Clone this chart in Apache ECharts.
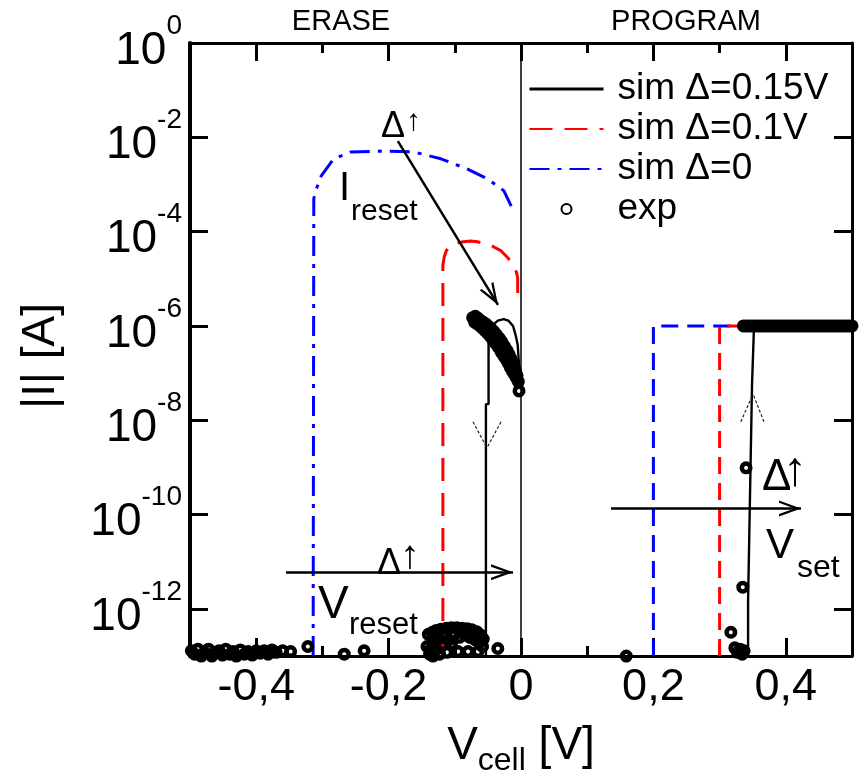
<!DOCTYPE html>
<html><head><meta charset="utf-8">
<script src="https://cdn.jsdelivr.net/npm/echarts@6/dist/echarts.min.js"></script>
<style>html,body{margin:0;padding:0;background:#fff}#c{width:865px;height:782px}</style>
</head><body><div id="c"></div>
<script>
const FONT = 'Liberation Sans, Arial, Helvetica, sans-serif';

// axis ticks
const xTicksMajor = [-0.4, -0.2, 0, 0.2, 0.4];
const xTicksMinor = [-0.3, -0.1, 0.1, 0.3];
const yTicks = [1e-12, 1e-10, 1e-8, 1e-6, 1e-4, 1e-2, 1];
const legendNames = ['sim Δ=0.15V', 'sim Δ=0.1V', 'sim Δ=0', 'exp'];

// sim Δ=0.15V (black)
const simA_erase = [[-0.053,1e-13],[-0.053,2.2e-8],[-0.049,2.2e-8],[-0.049,5.2e-7],[-0.046,8e-7],[-0.042,1.07e-6],[-0.035,1.3e-6],[-0.026,1.4e-6],[-0.019,1.3e-6],[-0.012,1.0e-6],[-0.008,6.3e-7],[-0.005,4e-7],[-0.003,1.5e-7],[-0.002,6e-8]];
const simA_zero = [[0,1e-13],[0,1]];
const simA_prog = [[0.343,1e-13],[0.343,1.4e-12],[0.346,1.4e-12],[0.346,2.9e-10],[0.349,2.9e-10],[0.349,5.9e-8],[0.352,5.9e-8],[0.352,1e-6],[0.5,1e-6]];
// sim Δ=0.1V (red)
const simB_erase = [[-0.118,1e-13],[-0.118,5.6e-6],[-0.118,1.95e-5],[-0.116,2.9e-5],[-0.113,3.9e-5],[-0.108,4.8e-5],[-0.101,5.5e-5],[-0.09,6.0e-5],[-0.076,6.3e-5],[-0.066,6.1e-5],[-0.056,5.7e-5],[-0.043,4.9e-5],[-0.03,3.9e-5],[-0.02,2.8e-5],[-0.012,1.95e-5],[-0.007,1.4e-5],[-0.005,1.05e-5],[-0.005,3.6e-6]];
const simB_prog = [[0.3,1e-13],[0.3,1e-6],[0.335,1e-6]];
// sim Δ=0 (blue)
const simC_erase = [[-0.314,1e-13],[-0.313,5e-4],[-0.31,7.4e-4],[-0.302,1.5e-3],[-0.283,3.5e-3],[-0.257,4.9e-3],[-0.212,5.1e-3],[-0.162,4.9e-3],[-0.121,3.5e-3],[-0.08,2.1e-3],[-0.05,1.3e-3],[-0.026,7.4e-4],[-0.011,2.7e-4]];
const simC_prog = [[0.2,1e-13],[0.2,1e-6],[0.335,1e-6]];

// experimental points
const expEraseLow = [[-0.498,1.3e-13],[-0.493,1.1e-13],[-0.488,1.4e-13],[-0.483,1.0e-13],[-0.478,1.2e-13],[-0.472,1.4e-13],[-0.467,1.0e-13],[-0.462,1.2e-13],[-0.456,1.3e-13],[-0.451,1.05e-13],[-0.446,1.4e-13],[-0.44,1.1e-13],[-0.435,1.25e-13],[-0.43,1.0e-13],[-0.424,1.35e-13],[-0.418,1.1e-13],[-0.412,1.25e-13],[-0.406,1.05e-13],[-0.4,1.3e-13],[-0.394,1.15e-13],[-0.388,1.3e-13],[-0.382,1.1e-13],[-0.376,1.35e-13],[-0.37,1.2e-13],[-0.36,1.3e-13],[-0.348,1.25e-13],[-0.322,1.6e-13],[-0.267,1.1e-13],[-0.237,1.3e-13]];
const expHump = [[-0.14,2.9e-13],[-0.134,3.2e-13],[-0.128,3.5e-13],[-0.121,3.7e-13],[-0.113,3.9e-13],[-0.105,4.0e-13],[-0.097,4.0e-13],[-0.089,3.9e-13],[-0.081,3.8e-13],[-0.074,3.6e-13],[-0.067,3.3e-13],[-0.061,2.8e-13],[-0.057,2.3e-13],
 [-0.142,1.6e-13],[-0.138,1.1e-13],[-0.133,1.0e-13],[-0.128,1.4e-13],[-0.125,2.3e-13],[-0.119,1.7e-13],[-0.115,2.7e-13],[-0.109,2.2e-13],[-0.101,2.8e-13],[-0.093,2.5e-13],[-0.085,2.8e-13],[-0.077,2.5e-13],[-0.069,2.2e-13],[-0.063,1.9e-13],[-0.131,2.2e-13],[-0.123,1.1e-13],[-0.136,1.4e-13],[-0.112,1.2e-13],[-0.105,1.8e-13],[-0.095,1.25e-13],[-0.08,1.25e-13],[-0.065,1.25e-13],[-0.058,1.6e-13],[-0.035,1.45e-13]];
const expBand = [[-0.073,1.5e-6],[-0.069,1.6e-6],[-0.065,1.45e-6],[-0.061,1.3e-6],[-0.057,1.2e-6],[-0.053,1.1e-6],[-0.049,9.8e-7],[-0.045,8.7e-7],[-0.041,7.6e-7],[-0.037,6.5e-7],[-0.033,5.5e-7],[-0.029,4.6e-7],[-0.025,3.7e-7],[-0.021,3.0e-7],[-0.018,2.5e-7],[-0.015,2.0e-7],[-0.012,1.6e-7],[-0.01,1.26e-7],[-0.008,1.05e-7],[-0.006,8.9e-8],
 [-0.07,1.2e-6],[-0.066,1.1e-6],[-0.062,1.0e-6],[-0.058,8.9e-7],[-0.054,7.9e-7],[-0.05,6.9e-7],[-0.046,5.9e-7],[-0.042,5.0e-7],[-0.038,4.2e-7],[-0.034,3.5e-7],[-0.03,2.8e-7],[-0.026,2.3e-7],[-0.022,1.9e-7],[-0.019,1.6e-7],[-0.016,1.3e-7],[-0.013,1.1e-7],[-0.01,9.5e-8],[-0.007,7.9e-8],
 [-0.004,6.6e-8],[-0.003,4.2e-8]];
const expProgLow = [[0.159,1e-13],[0.317,3.2e-13],[0.323,1.5e-13],[0.327,1.2e-13],[0.331,1.4e-13],[0.334,1.1e-13],[0.337,1.3e-13],[0.335,2.9e-12],[0.34,9.8e-10]];
const expProgHigh = [[0.336,1e-6],[0.34,1e-6],[0.344,1e-6],[0.348,1e-6],[0.352,1e-6],[0.356,1e-6],[0.36,1e-6],[0.364,1e-6],[0.368,1e-6],[0.372,1e-6],[0.376,1e-6],[0.38,1e-6],[0.384,1e-6],[0.388,1e-6],[0.392,1e-6],[0.396,1e-6],[0.4,1e-6],[0.404,1e-6],[0.408,1e-6],[0.412,1e-6],[0.416,1e-6],[0.42,1e-6],[0.424,1e-6],[0.428,1e-6],[0.432,1e-6],[0.436,1e-6],[0.44,1e-6],[0.444,1e-6],[0.448,1e-6],[0.452,1e-6],[0.456,1e-6],[0.46,1e-6],[0.464,1e-6],[0.468,1e-6],[0.472,1e-6],[0.476,1e-6],[0.48,1e-6],[0.484,1e-6],[0.488,1e-6],[0.492,1e-6],[0.496,1e-6],[0.5,1e-6]];

// annotation arrows (data space)
const arrows = [
  [[-0.186,8.3e-3],[-0.0347,2.8e-6]],
  [[-0.355,6.0e-12],[-0.012,6.0e-12]],
  [[0.136,1.35e-10],[0.423,1.35e-10]]
];
const chevrons = [
  [[-0.0725,9.3e-9],[-0.0514,2.6e-9]],
  [[-0.0302,9.3e-9],[-0.0514,2.6e-9]],
  [[0.332,9.3e-9],[0.3505,3.6e-8]],
  [[0.367,9.3e-9],[0.3505,3.6e-8]]
];

const ARROW = 'path://M8,-22L8.01,-22L8,-22Z M0,22L8,0L16,22L13.6,22L8,6.5L2.4,22Z';

const chart = echarts.init(document.getElementById('c'), null, {renderer:'canvas'});

function xFmt(v){ return Math.abs(v) < 1e-9 ? '0' : v.toFixed(1).replace('.', ','); }
function yFmt(v){ const e = Math.round(Math.log10(v)); return '{b|10}{e|' + e + '}'; }

const axisLineStyle = {color:'#000', width:3};
const xBase = {type:'value', min:-0.5, max:0.5, splitLine:{show:false}, gridIndex:0};
const yBase = {type:'log', logBase:10, min:1e-13, max:1, splitLine:{show:false}, minorTick:{show:false}};

const textEl = (t, x, y, size, weight) => ({type:'text', x:x, y:y, silent:true,
  style:{text:t, font:(weight ? weight + ' ' : '') + size + 'px ' + FONT, fill:'#000', align:'left', verticalAlign:'middle'}});

chart.setOption({
  animation:false,
  backgroundColor:'#fff',
  grid:{left:190, right:13, top:43, bottom:120, containLabel:false},
  legend:{
    data: [
      {name:legendNames[0], itemStyle:{opacity:0}, lineStyle:{width:3}},
      {name:legendNames[1], itemStyle:{opacity:0}},
      {name:legendNames[2], itemStyle:{opacity:0}},
      {name:legendNames[3]}
    ],
    orient:'vertical', left:523, top:64, itemWidth:74, itemHeight:10, itemGap:0,
    selectedMode:false,
    textStyle:{fontFamily:FONT, fontSize:37, color:'#000', lineHeight:40, padding:[0,0,0,9]}
  },
  xAxis:[
    Object.assign({}, xBase, {position:'bottom',
      axisLine:{show:true, onZero:false, lineStyle:axisLineStyle},
      axisTick:{show:true, inside:true, length:18, lineStyle:{color:'#000', width:3}, customValues:xTicksMajor},
      axisLabel:{show:true, customValues:xTicksMajor, formatter:xFmt, fontFamily:FONT, fontSize:45, color:'#000', margin:9},
      name:'{v|V}{s|cell}{v| [V]}', nameLocation:'middle', nameGap:57,
      nameTextStyle:{rich:{v:{fontFamily:FONT, fontSize:46, color:'#000', lineHeight:46}, s:{fontFamily:FONT, fontSize:32, color:'#000', lineHeight:32, padding:[30,0,0,0]}}}
    }),
    Object.assign({}, xBase, {position:'bottom',
      axisLine:{show:false, onZero:false},
      axisTick:{show:true, inside:true, length:10, lineStyle:{color:'#000', width:3}, customValues:xTicksMinor},
      axisLabel:{show:false}}),
    Object.assign({}, xBase, {position:'top',
      axisLine:{show:true, onZero:false, lineStyle:axisLineStyle},
      axisTick:{show:true, inside:true, length:18, lineStyle:{color:'#000', width:3}, customValues:xTicksMajor},
      axisLabel:{show:false}}),
    Object.assign({}, xBase, {position:'top',
      axisLine:{show:false, onZero:false},
      axisTick:{show:true, inside:true, length:10, lineStyle:{color:'#000', width:3}, customValues:xTicksMinor},
      axisLabel:{show:false}})
  ],
  yAxis:[
    Object.assign({}, yBase, {position:'left',
      axisLine:{show:true, onZero:false, lineStyle:{color:'#000', width:4}},
      axisTick:{show:true, inside:true, length:18, lineStyle:{color:'#000', width:3}, customValues:yTicks},
      axisLabel:{show:true, customValues:yTicks, formatter:yFmt, margin:8, padding:[16,0,0,0],
        rich:{b:{fontFamily:FONT, fontSize:46, color:'#000', lineHeight:46}, e:{fontFamily:FONT, fontSize:28, color:'#000', lineHeight:28, padding:[0,0,50,0]}}},
      name:'|I| [A]\u00A0', nameLocation:'middle', nameRotate:90, nameGap:126,
      nameTextStyle:{fontFamily:FONT, fontSize:46, color:'#000'}
    }),
    Object.assign({}, yBase, {position:'right',
      axisLine:{show:true, onZero:false, lineStyle:axisLineStyle},
      axisTick:{show:true, inside:true, length:18, lineStyle:{color:'#000', width:3}, customValues:yTicks},
      axisLabel:{show:false}})
  ],
  series:[
    {name:legendNames[0], type:'line', data:simA_erase, symbol:'none', lineStyle:{color:'#000', width:2.4}, itemStyle:{color:'#000'}, z:3},
    {name:legendNames[0], type:'line', data:simA_zero, symbol:'none', lineStyle:{color:'#000', width:1.5}, itemStyle:{color:'#000'}, z:3},
    {name:legendNames[0], type:'line', data:simA_prog, symbol:'none', lineStyle:{color:'#000', width:2.4}, itemStyle:{color:'#000'}, z:3},
    {name:legendNames[1], type:'line', data:simB_erase, symbol:'none', lineStyle:{color:'#ff0000', width:3, type:[23,12]}, itemStyle:{color:'#ff0000'}, z:2},
    {name:legendNames[1], type:'line', data:simB_prog, symbol:'none', lineStyle:{color:'#ff0000', width:3, type:[17,9]}, itemStyle:{color:'#ff0000'}, z:2},
    {name:legendNames[2], type:'line', data:simC_erase, symbol:'none', lineStyle:{color:'#0000ff', width:3, type:[20,8,4,8]}, itemStyle:{color:'#0000ff'}, z:2},
    {name:legendNames[2], type:'line', data:simC_prog, symbol:'none', lineStyle:{color:'#0000ff', width:3, type:[17,9]}, itemStyle:{color:'#0000ff'}, z:1},
    {name:'arrows', type:'line', data:[], symbol:'none', silent:true, z:5,
      markLine:{silent:true, animation:false, symbol:['none', ARROW], symbolSize:[16,44], label:{show:false},
        lineStyle:{color:'#000', width:2.5, type:'solid'}, emphasis:{disabled:true},
        data: arrows.map(a => [{coord:a[0]}, {coord:a[1]}])}},
    {name:'chevrons', type:'line', data:[], symbol:'none', silent:true, z:5,
      markLine:{silent:true, animation:false, symbol:['none','none'], label:{show:false},
        lineStyle:{color:'#222', width:1.2, type:[3,2]}, emphasis:{disabled:true},
        data: chevrons.map(a => [{coord:a[0]}, {coord:a[1]}])}},
    {name:legendNames[3], type:'scatter', data:[].concat(expEraseLow, expHump, expBand, expProgLow, expProgHigh),
      symbol:'circle', symbolSize:8.5, z:6,
      itemStyle:{color:'rgba(255,255,255,0)', borderColor:'#000', borderWidth:4.5, opacity:1}}
  ],
  graphic:[
    {type:'text', x:341, y:22, silent:true, style:{text:'ERASE', font:'29px ' + FONT, fill:'#000', align:'center', verticalAlign:'middle'}},
    {type:'text', x:686, y:22, silent:true, style:{text:'PROGRAM', font:'29px ' + FONT, fill:'#000', align:'center', verticalAlign:'middle'}},
    textEl('Δ', 381, 127, 36),
    textEl('↑', 406, 122, 30),
    textEl('I', 339, 189, 40),
    textEl('reset', 351, 212, 30),
    textEl('Δ', 377, 564, 36),
    textEl('↑', 400, 557, 40, 'bold'),
    textEl('V', 318, 605, 46),
    textEl('reset', 349, 625, 31),
    textEl('Δ', 762, 478, 44),
    textEl('↑', 783, 472, 48, 'bold'),
    textEl('V', 766, 546, 42),
    textEl('set', 797, 568, 32)
  ]
});
</script></body></html>
